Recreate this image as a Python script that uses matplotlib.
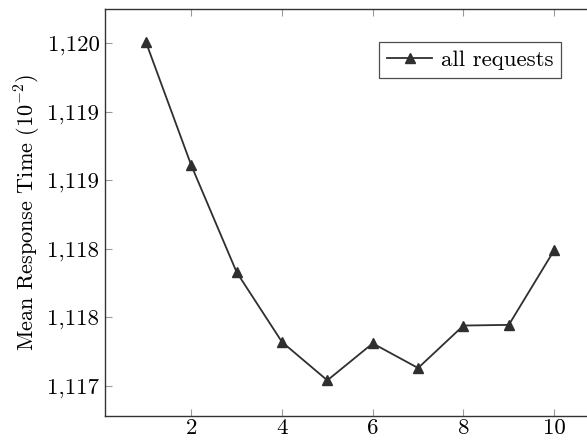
import matplotlib
matplotlib.use("Agg")
import matplotlib.pyplot as plt

plt.rcParams['font.family'] = 'serif'
plt.rcParams['font.serif'] = ['cmr10']
plt.rcParams['mathtext.fontset'] = 'cm'
plt.rcParams['axes.unicode_minus'] = False

# data (values in units of 10^-2)
x_vals = [1, 2, 3, 4, 5, 6, 7, 8, 9, 10]
mean_rt = [1119.51, 1118.61, 1117.83, 1117.32, 1117.04, 1117.31, 1117.13, 1117.44, 1117.445, 1117.99]
y_ticks = [1117.0, 1117.5, 1118.0, 1118.5, 1119.0, 1119.5]
y_tick_labels = ['1,117', '1,118', '1,118', '1,119', '1,119', '1,120']
x_ticks = [2, 4, 6, 8, 10]

fig = plt.figure(figsize=(5.87, 4.41), dpi=100)
ax = fig.add_axes([0.1789, 0.0567, 0.8348, 0.9229])

ax.plot(x_vals, mean_rt, color='#2f2f2f', lw=1.3, marker='^', markersize=7.5,
        label='all requests')

ax.set_xlim(0.1, 10.9)
ax.set_ylim(1116.78, 1119.75)
ax.set_xticks(x_ticks)
ax.set_yticks(y_ticks)
ax.set_yticklabels(y_tick_labels)
ax.tick_params(direction='in', top=True, right=True, length=5, width=0.8,
               color='#999999', labelsize=16.5)
ax.tick_params(axis='x', pad=2)
ax.tick_params(axis='y', pad=4)
for s in ax.spines.values():
    s.set_color('#333333')
    s.set_linewidth(1.0)

ax.set_ylabel(r'Mean Response Time $(10^{-2})$', fontsize=16, labelpad=3)

leg = ax.legend(loc='upper right', bbox_to_anchor=(0.9306, 0.919), borderaxespad=0,
                fontsize=16.5, frameon=True, fancybox=False, handlelength=2.0,
                borderpad=0.35, handletextpad=0.35)
leg.get_frame().set_edgecolor('#222222')
leg.get_frame().set_linewidth(0.9)

fig.savefig('out.png', dpi=100)
